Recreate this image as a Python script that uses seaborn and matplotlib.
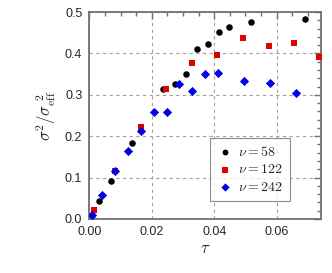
import numpy as np
import pandas as pd
import seaborn as sns
import matplotlib.pyplot as plt
from matplotlib.ticker import MultipleLocator

# data
tau_58 = [0.0008, 0.0032, 0.0068, 0.0138, 0.0237, 0.0275, 0.0309, 0.0344, 0.0379,
          0.0414, 0.0447, 0.0517, 0.0691]
var_58 = [0.010, 0.044, 0.092, 0.183, 0.313, 0.326, 0.351, 0.411, 0.423,
          0.452, 0.464, 0.475, 0.484]

tau_122 = [0.0016, 0.0083, 0.0164, 0.0245, 0.0328, 0.0410, 0.0492, 0.0574, 0.0656, 0.0736]
var_122 = [0.022, 0.117, 0.223, 0.313, 0.377, 0.396, 0.436, 0.417, 0.424, 0.392]

tau_242 = [0.0008, 0.0041, 0.0083, 0.0123, 0.0164, 0.0207, 0.0248, 0.0288, 0.0330,
           0.0372, 0.0412, 0.0496, 0.0579, 0.0661]
var_242 = [0.010, 0.057, 0.117, 0.163, 0.213, 0.258, 0.259, 0.326, 0.310,
           0.351, 0.353, 0.334, 0.329, 0.304]

labels = [r'$\nu = 58$', r'$\nu = 122$', r'$\nu = 242$']

df = pd.concat([
    pd.DataFrame({'tau': tau_58, 'var': var_58, 'nu': labels[0]}),
    pd.DataFrame({'tau': tau_122, 'var': var_122, 'nu': labels[1]}),
    pd.DataFrame({'tau': tau_242, 'var': var_242, 'nu': labels[2]}),
])

sns.set_style('white')
plt.rcParams['font.family'] = ['Liberation Sans', 'DejaVu Sans']
plt.rcParams['mathtext.fontset'] = 'cm'

fig = plt.figure(figsize=(3.32, 2.73), dpi=100)
ax = fig.add_axes([0.269, 0.198, 0.697, 0.758])

palette = {labels[0]: 'black', labels[1]: '#e00000', labels[2]: '#0000e6'}
markers = {labels[0]: 'o', labels[1]: 's', labels[2]: 'D'}
sizes = {labels[0]: 22, labels[1]: 22, labels[2]: 22}

for lab in labels:
    sub = df[df['nu'] == lab]
    sns.scatterplot(data=sub, x='tau', y='var', color=palette[lab], marker=markers[lab],
                    s=sizes[lab], linewidth=0, ax=ax, label=lab, zorder=3)

ax.set_xlim(0, 0.0741)
ax.set_ylim(0, 0.5)
ax.xaxis.set_major_locator(MultipleLocator(0.02))
ax.xaxis.set_minor_locator(MultipleLocator(0.005))
ax.yaxis.set_major_locator(MultipleLocator(0.1))
ax.yaxis.set_minor_locator(MultipleLocator(0.02))
ax.xaxis.set_major_formatter(plt.FormatStrFormatter('%.2f'))
ax.yaxis.set_major_formatter(plt.FormatStrFormatter('%.1f'))

ax.grid(True, which='major', linestyle=(0, (3, 3)), color='#a0a0a0', linewidth=0.8)
ax.tick_params(which='both', direction='in', top=True, right=True, color='#707070',
               labelsize=9, pad=5)
ax.tick_params(which='major', length=5, width=1)
ax.tick_params(which='minor', length=3, width=1)
for sp in ax.spines.values():
    sp.set_color('#707070')
    sp.set_linewidth(1.3)

ax.set_xlabel(r'$\tau$', fontsize=12, labelpad=2)
ax.set_ylabel(r'$\sigma^2/\sigma_{\rm eff}^{\ 2}$', fontsize=12, labelpad=5)

leg = ax.legend(loc='lower right', bbox_to_anchor=(0.896, 0.055), fontsize=10,
                frameon=True, fancybox=False, handletextpad=0.3, borderpad=0.5,
                labelspacing=0.25, handlelength=1.2, markerscale=0.9)
leg.get_frame().set_edgecolor('#707070')
leg.get_frame().set_linewidth(0.8)

plt.savefig('out.png', dpi=100)
